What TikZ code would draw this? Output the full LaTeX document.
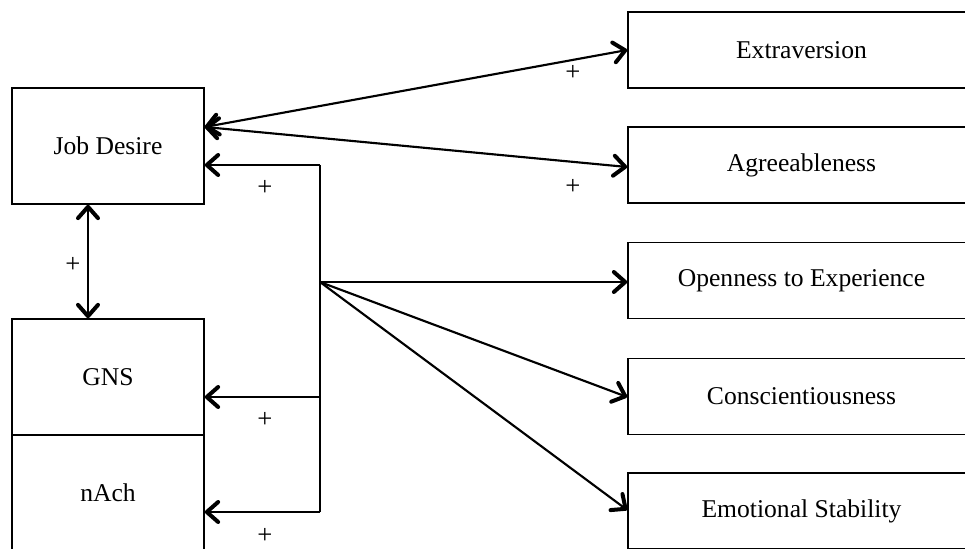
\documentclass[tikz,border=0pt]{standalone}
\usepackage{fontspec}
\setmainfont{Liberation Serif}
\usetikzlibrary{arrows.meta,calc}
\begin{document}
\begin{tikzpicture}[x=0.75pt,y=-0.75pt,
  box/.style={draw,line width=1.2pt,inner sep=0pt,font=\fontsize{19.2}{23}\selectfont},
  leftbox/.style={box,minimum width=144pt,minimum height=87pt},
  rightbox/.style={box,minimum width=260.25pt,minimum height=57pt},
  tip/.tip={Straight Barb[length=8.5pt,width=15pt,line width=3pt,round]},
  conn/.style={line width=1.6pt,-tip},
  biconn/.style={line width=1.6pt,tip-tip},
  plain/.style={line width=1.6pt},
  plus/.style={font=\fontsize{20}{24}\selectfont,inner sep=0pt}]
\useasboundingbox (0,0) rectangle (965,549);
\clip (0,0) rectangle (965,549);

% left boxes
\node[leftbox] (jd) at (108,146) {Job Desire};
\node[leftbox] (gns) at (108,377) {GNS};
\node[leftbox] (nach) at (108,493) {nAch};

% right boxes
\node[rightbox] (ext) at (801.5,50) {Extraversion};
\node[rightbox] (agr) at (801.5,165) {Agreeableness};
\node[rightbox] (ope) at (801.5,280.5) {Openness to Experience};
\node[rightbox] (con) at (801.5,396.5) {Conscientiousness};
\node[rightbox] (emo) at (801.5,511) {Emotional Stability};

% connection points
\coordinate (jdA) at ($(jd.east)+(0,-19)$);
\coordinate (jdB) at ($(jd.east)+(0,19)$);
\coordinate (top) at (320,165);
\coordinate (hub) at (320,282);
\coordinate (mid) at (320,397);
\coordinate (bot) at (320,512);

% Job Desire <-> Extraversion / Agreeableness
\draw[biconn] (jdA) -- ($(ext.west)+(0,0)$);
\draw[biconn] (jdA) -- ($(agr.west)+(0,2)$);

% Job Desire <-> GNS
\draw[biconn] ($(jd.south)+(-20,0)$) -- ($(gns.north)+(-20,0)$);

% vertical spine
\draw[plain] (top) -- (bot);
\draw[conn] (top) -- (jdB);
\draw[conn] (mid) -- (gns.east |- mid);
\draw[conn] (bot) -- (nach.east |- bot);

% hub to traits
\draw[conn] (hub) -- (ope.west |- hub);
\draw[conn] (hub) -- ($(con.west)+(0,0.5)$);
\draw[conn] (hub) -- ($(emo.west)+(0,-1)$);

% plus labels
\node[plus] (p1) at (73,265) {+};
\node[plus] (p2) at (265,188) {+};
\node[plus] (p3) at (265,420) {+};
\node[plus] (p4) at (265,536) {+};
\node[plus] (p5) at (573,73) {+};
\node[plus] (p6) at (573,187) {+};
\end{tikzpicture}
\end{document}
